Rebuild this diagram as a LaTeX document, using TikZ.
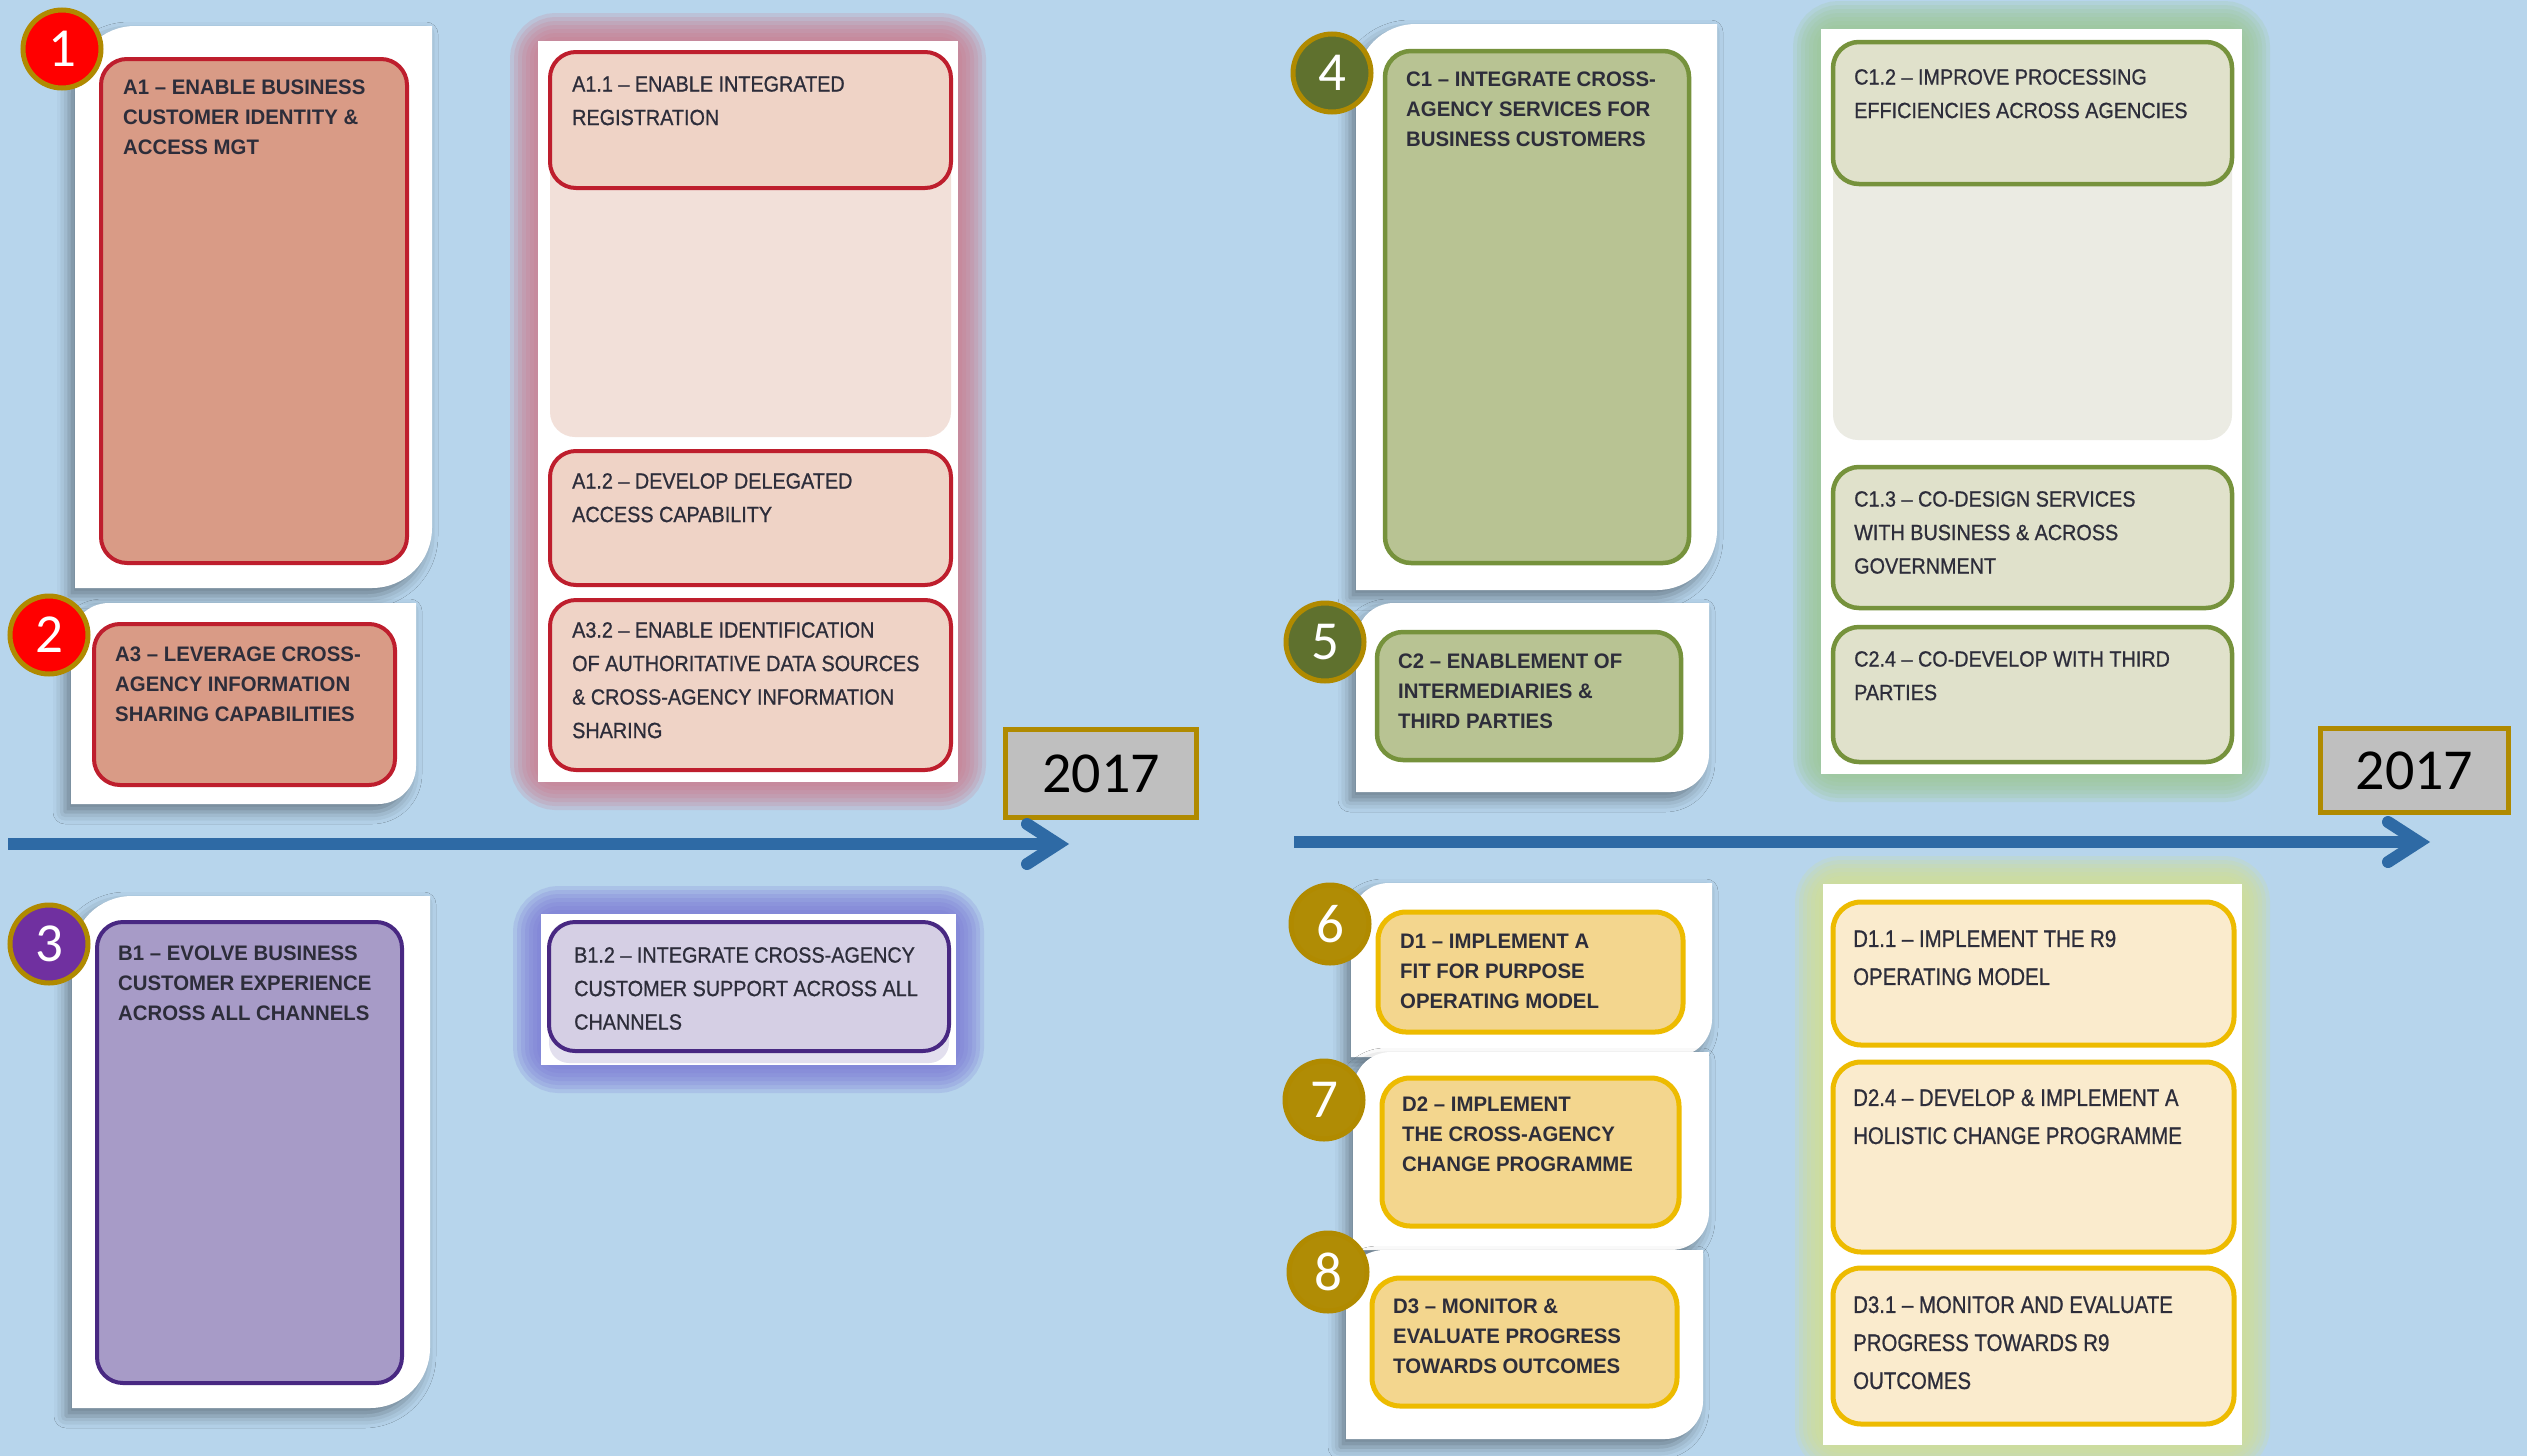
\documentclass[tikz,border=0pt]{standalone}
\usepackage{fontspec}
\setmainfont{Liberation Sans}
\newfontfamily\mainf[FakeStretch=0.97]{Liberation Sans}
\newfontfamily\subf[FakeStretch=0.9,FakeBold=0.8]{Liberation Sans}
\newfontfamily\subdf[FakeStretch=0.85,FakeBold=0.8]{Liberation Sans}
\newfontfamily\numf{Carlito}
\usetikzlibrary{calc,shadows.blur}
\definecolor{bg}{RGB}{183,213,236}
\definecolor{txtc}{RGB}{45,45,58}
\definecolor{ringc}{RGB}{176,138,0}
\definecolor{arrc}{RGB}{46,106,165}
\definecolor{yearfill}{RGB}{191,191,191}
% A red
\definecolor{aborder}{RGB}{190,30,45}
\definecolor{amain}{RGB}{217,155,134}
\definecolor{asub}{RGB}{239,211,198}
\definecolor{afill}{RGB}{242,224,217}
\definecolor{aglow}{RGB}{204,120,138}
\definecolor{anum}{RGB}{255,0,0}
% B purple
\definecolor{bborder}{RGB}{72,40,130}
\definecolor{bmain}{RGB}{167,155,199}
\definecolor{bsub}{RGB}{213,207,228}
\definecolor{bfill}{RGB}{226,223,238}
\definecolor{bglow}{RGB}{120,118,212}
\definecolor{bnum}{RGB}{112,48,160}
% C green
\definecolor{cborder}{RGB}{118,146,60}
\definecolor{cmain}{RGB}{184,195,147}
\definecolor{csub}{RGB}{224,225,203}
\definecolor{cfill}{RGB}{235,235,227}
\definecolor{cglow}{RGB}{155,198,145}
\definecolor{cnum}{RGB}{95,113,46}
% D yellow
\definecolor{dborder}{RGB}{237,187,0}
\definecolor{dmain}{RGB}{243,214,142}
\definecolor{dsub}{RGB}{250,235,205}
\definecolor{dglow}{RGB}{212,224,140}
\definecolor{dnum}{RGB}{176,140,5}
% card with rounded top-left and bottom-right corners: x1 y1 x2 y2 r
\newcommand\cardpath[5]{(#1,#4) -- (#1,#2+#5) .. controls (#1,#2+0.448*#5) and (#1+0.448*#5,#2) .. (#1+#5,#2) -- (#3,#2) -- (#3,#4-#5) .. controls (#3,#4-0.448*#5) and (#3-0.448*#5,#4) .. (#3-#5,#4) -- cycle}
% glowing white panel: colour x1 y1 x2 y2
\newcommand\glowpanel[5]{%
  \foreach \w in {56,48,40,32,24,16,8}{%
    \draw[#1, line width=\w, opacity=0.2, rounded corners=18pt] (#2,#3) rectangle (#4,#5);}
  \fill[white] (#2,#3) rectangle (#4,#5);}
\begin{document}
\begin{tikzpicture}[x=1pt,y=-1pt,
  card/.style={fill=white, blur shadow={shadow xshift=-6pt, shadow yshift=-8pt, shadow blur radius=12pt, shadow opacity=40}},
  maintxt/.style={anchor=north west, inner sep=0pt, align=left, text=txtc, font=\mainf\bfseries\fontsize{21}{30}\selectfont},
  subtxt/.style={anchor=north west, inner sep=0pt, align=left, text=txtc, font=\subf\fontsize{22}{33.5}\selectfont},
  subdtxt/.style={anchor=north west, inner sep=0pt, align=left, text=txtc, font=\subdf\fontsize{24}{38}\selectfont},
  numc/.style={circle, minimum size=78pt, inner sep=0pt, draw=ringc, line width=5pt, text=white, font=\numf\fontsize{55}{60}\selectfont},
  yearbox/.style={draw=ringc, fill=yearfill, line width=5pt, inner sep=0pt, text=black, font=\numf\fontsize{58}{60}\selectfont},
  tline/.style={draw=arrc, line width=12pt},
  abox/.style={draw=aborder, line width=4pt, rounded corners=26pt},
  bbox/.style={draw=bborder, line width=4pt, rounded corners=26pt},
  cbox/.style={draw=cborder, line width=4.5pt, rounded corners=26pt},
  dbox/.style={draw=dborder, line width=5pt, rounded corners=28pt},
]
\useasboundingbox (0,0) rectangle (2527,1456);
\fill[bg] (0,0) rectangle (2527,1456);

% ---------- group panels (right columns) ----------
\glowpanel{aglow}{538}{41}{958}{782}
\fill[afill, rounded corners=25pt] (550,52) rectangle (951,437);
\draw[abox, fill=asub] (550,52) rectangle (951,188);
\draw[abox, fill=asub] (550,451) rectangle (951,585);
\draw[abox, fill=asub] (550,600) rectangle (951,770);
\node[subtxt] (tA11) at (572,76) {A1.1 – ENABLE INTEGRATED\\REGISTRATION};
\node[subtxt] (tA12) at (572,473) {A1.2 – DEVELOP DELEGATED\\ACCESS CAPABILITY};
\node[subtxt] (tA32) at (572,622) {A3.2 – ENABLE IDENTIFICATION\\OF AUTHORITATIVE DATA SOURCES\\\& CROSS-AGENCY INFORMATION\\SHARING};

\glowpanel{bglow}{541}{914}{956}{1065}
\fill[bfill, rounded corners=20pt] (549,922) rectangle (949,1063);
\draw[bbox, fill=bsub] (549,922) rectangle (949,1051);
\node[subtxt] (tB12) at (574,947) {B1.2 – INTEGRATE CROSS-AGENCY\\CUSTOMER SUPPORT ACROSS ALL\\CHANNELS};

\glowpanel{cglow}{1821}{29}{2242}{774}
\fill[cfill, rounded corners=25pt] (1833,42) rectangle (2232,440);
\draw[cbox, fill=csub] (1833,42) rectangle (2232,184);
\draw[cbox, fill=csub] (1833,467) rectangle (2232,608);
\draw[cbox, fill=csub] (1833,627) rectangle (2232,762);
\node[subtxt] (tC12) at (1854,69) {C1.2 – IMPROVE PROCESSING\\EFFICIENCIES ACROSS AGENCIES};
\node[subtxt] (tC13) at (1854,491) {C1.3 – CO-DESIGN SERVICES\\WITH BUSINESS \& ACROSS\\GOVERNMENT};
\node[subtxt] (tC24) at (1854,651) {C2.4 – CO-DEVELOP WITH THIRD\\PARTIES};

\glowpanel{dglow}{1823}{884}{2242}{1445}
\draw[dbox, fill=dsub] (1833,902) rectangle (2234,1045);
\draw[dbox, fill=dsub] (1833,1062) rectangle (2234,1252);
\draw[dbox, fill=dsub] (1833,1268) rectangle (2234,1424);
\node[subdtxt] (tD11) at (1853,930) {D1.1 – IMPLEMENT THE R9\\OPERATING MODEL};
\node[subdtxt] (tD24) at (1853,1089) {D2.4 – DEVELOP \& IMPLEMENT A\\HOLISTIC CHANGE PROGRAMME};
\node[subdtxt] (tD31) at (1853,1296) {D3.1 – MONITOR AND EVALUATE\\PROGRESS TOWARDS R9\\OUTCOMES};

% ---------- main cards ----------
\path[card] \cardpath{75}{26}{432}{588}{60};
\draw[abox, fill=amain] (101,59) rectangle (407,563);
\node[maintxt] (tA1) at (123,80) {A1 – ENABLE BUSINESS\\CUSTOMER IDENTITY \&\\ACCESS MGT};

\path[card] \cardpath{71}{603}{416}{804}{38};
\draw[abox, fill=amain] (94,624) rectangle (395,785);
\node[maintxt] (tA3) at (115,647) {A3 – LEVERAGE CROSS-\\AGENCY INFORMATION\\SHARING CAPABILITIES};

\path[card] \cardpath{72}{896}{430}{1408}{60};
\draw[bbox, fill=bmain] (97,922) rectangle (402,1383);
\node[maintxt] (tB1) at (118,946) {B1 – EVOLVE BUSINESS\\CUSTOMER EXPERIENCE\\ACROSS ALL CHANNELS};

\path[card] \cardpath{1356}{24}{1717}{590}{60};
\draw[cbox, fill=cmain] (1385,51) rectangle (1689,563);
\node[maintxt] (tC1) at (1406,72) {C1 – INTEGRATE CROSS-\\AGENCY SERVICES FOR\\BUSINESS CUSTOMERS};

\path[card] \cardpath{1356}{603}{1709}{792}{38};
\draw[cbox, fill=cmain] (1377,632) rectangle (1681,760);
\node[maintxt] (tC2) at (1398,654) {C2 – ENABLEMENT OF\\INTERMEDIARIES \&\\THIRD PARTIES};

\path[card] \cardpath{1351}{883}{1712}{1057}{38};
\draw[dbox, fill=dmain] (1378,912) rectangle (1683,1032);
\node[maintxt] (tD1) at (1400,934) {D1 – IMPLEMENT A\\FIT FOR PURPOSE\\OPERATING MODEL};

\path[card] \cardpath{1353}{1052}{1709}{1250}{38};
\draw[dbox, fill=dmain] (1382,1078) rectangle (1679,1226);
\node[maintxt] (tD2) at (1402,1097) {D2 – IMPLEMENT\\THE CROSS-AGENCY\\CHANGE PROGRAMME};

\path[card] \cardpath{1346}{1250}{1703}{1439}{38};
\draw[dbox, fill=dmain] (1372,1278) rectangle (1677,1406);
\node[maintxt] (tD3) at (1393,1299) {D3 – MONITOR \&\\EVALUATE PROGRESS\\TOWARDS OUTCOMES};

% ---------- number badges ----------
\node[numc, fill=anum] (n1) at (62,49) {1};
\node[numc, fill=anum] (n2) at (49,635) {2};
\node[numc, fill=bnum] (n3) at (49,944) {3};
\node[numc, fill=cnum] (n4) at (1332,73) {4};
\node[numc, fill=cnum] (n5) at (1325,642) {5};
\node[numc, fill=dnum] (n6) at (1330,924) {6};
\node[numc, fill=dnum] (n7) at (1324,1100) {7};
\node[numc, fill=dnum] (n8) at (1328,1272) {8};

% ---------- timelines ----------
\node[yearbox, minimum width=191pt, minimum height=88pt] (yL) at (1101,773.5) {2017};
\node[yearbox, minimum width=188pt, minimum height=84pt] (yR) at (2414.5,770.5) {2017};

\coordinate (Ls) at (8,844);
\coordinate (Lt) at (1058,844);
\draw[tline] (Ls) -- (Lt);
\draw[tline, line cap=round, line join=miter] ($(Lt)+(-31,-20)$) -- (Lt) -- ($(Lt)+(-31,20)$);

\coordinate (Rs) at (1294,842);
\coordinate (Rt) at (2419,842);
\draw[tline] (Rs) -- (Rt);
\draw[tline, line cap=round, line join=miter] ($(Rt)+(-31,-20)$) -- (Rt) -- ($(Rt)+(-31,20)$);
\end{tikzpicture}
\end{document}
